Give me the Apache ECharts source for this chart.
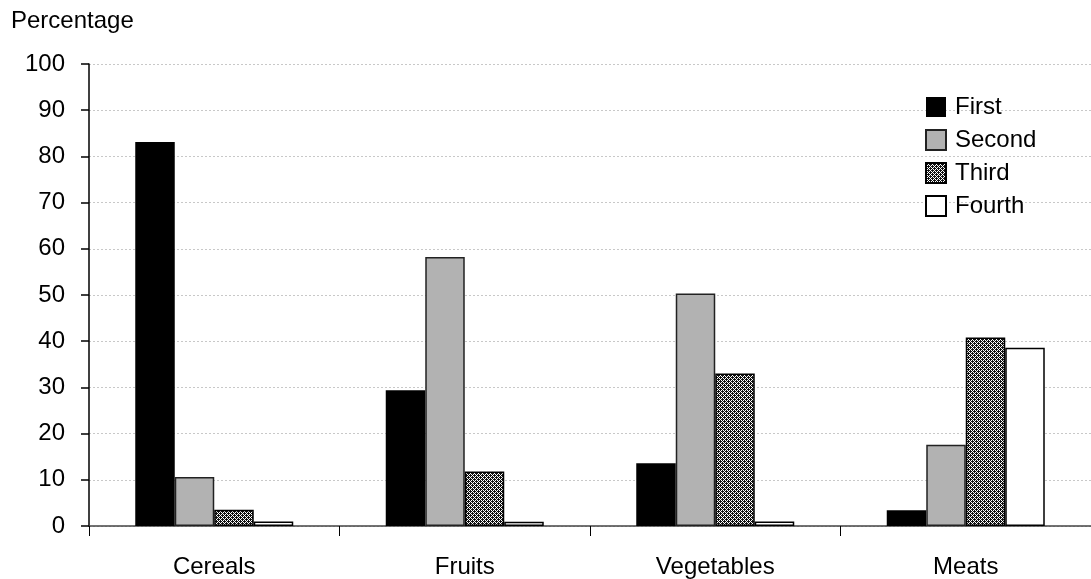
<!DOCTYPE html>
<html><head><meta charset="utf-8">
<script src="https://cdn.jsdelivr.net/npm/echarts@6/dist/echarts.min.js"></script>
<style>html,body{margin:0;padding:0;background:#fff}#c{width:1091px;height:579px}</style>
</head><body><div id="c"></div>
<script>
const categories = ['Cereals', 'Fruits', 'Vegetables', 'Meats'];
const seriesNames = ['First', 'Second', 'Third', 'Fourth'];
const first = [83.1, 29.4, 13.6, 3.4];
const second = [10.6, 58.2, 50.3, 17.6];
const third = [3.5, 11.8, 33.0, 40.8];
const fourth = [1.0, 0.9, 1.0, 38.6];
const yTicks = [0, 10, 20, 30, 40, 50, 60, 70, 80, 90, 100];

function makePattern() {
  const c = document.createElement('canvas');
  c.width = 4; c.height = 4;
  const ctx = c.getContext('2d');
  ctx.fillStyle = '#ffffff';
  ctx.fillRect(0, 0, 4, 4);
  ctx.fillStyle = '#111111';
  for (let x = 0; x < 4; x++) for (let y = 0; y < 4; y++) {
    if ((x + y) % 2 === 0 || (x === 0 && y === 1) || (x === 2 && y === 3)) ctx.fillRect(x, y, 1, 1);
  }
  return c;
}
const pattern = { image: makePattern(), repeat: 'repeat' };

const font = 'Liberation Sans, Arial, sans-serif';
const fs = 24;
const chart = echarts.init(document.getElementById('c'), null, { renderer: 'canvas' });
const styles = [
  { color: '#000000', borderColor: '#000000', borderWidth: 0 },
  { color: '#b2b2b2', borderColor: '#222222', borderWidth: 1.5 },
  { color: pattern, borderColor: '#000000', borderWidth: 1.5 },
  { color: '#ffffff', borderColor: '#000000', borderWidth: 1.5 }
];
const dataArr = [first, second, third, fourth];
chart.setOption({
  animation: false,
  backgroundColor: '#fff',
  title: { text: 'Percentage', left: 11, top: 9, padding: 0,
    textStyle: { fontFamily: font, fontSize: fs, fontWeight: 'normal', color: '#000' } },
  legend: {
    data: seriesNames, orient: 'vertical', left: 925, top: 95, padding: 0,
    itemWidth: 20, itemHeight: 20, itemGap: 9, icon: 'rect',
    textStyle: { fontFamily: font, fontSize: fs, color: '#000', padding: [0, 0, 0, 4] }
  },
  grid: { left: 89, top: 64, bottom: 52, width: 1010, containLabel: false },
  xAxis: {
    type: 'category', data: categories,
    axisLine: { lineStyle: { color: '#444', width: 1.5 } },
    axisTick: { show: true, inside: false, length: 10, lineStyle: { color: '#000', width: 1 } },
    axisLabel: { fontFamily: font, fontSize: fs, color: '#000', margin: 29 },
    splitLine: { show: false }
  },
  yAxis: {
    type: 'value', min: yTicks[0], max: yTicks[yTicks.length - 1], interval: 10,
    axisLine: { show: true, lineStyle: { color: '#000', width: 1.5 } },
    axisTick: { show: true, inside: false, length: 8, lineStyle: { color: '#000', width: 1.5 } },
    axisLabel: { fontFamily: font, fontSize: fs, color: '#000', margin: 24 },
    splitLine: { show: true, lineStyle: { color: '#c8c8c8', type: [2, 2], width: 1 } }
  },
  series: seriesNames.map((n, i) => ({
    name: n, type: 'bar', data: dataArr[i], barWidth: 39.5, barGap: '0%',
    itemStyle: styles[i]
  }))
});
</script></body></html>
